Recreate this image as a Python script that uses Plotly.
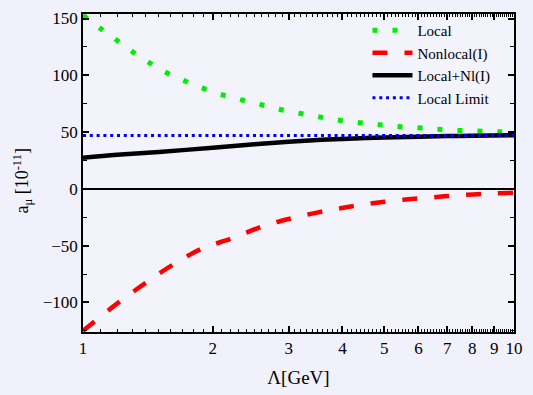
import plotly.graph_objects as go

# Data
lam_local = [1.0, 1.1, 1.2, 1.3, 1.42, 1.55, 1.705, 1.886, 2.09, 2.318, 2.574, 2.85, 3.175, 3.52, 3.9, 4.37, 4.85, 5.38, 5.99, 6.66, 7.42, 8.24, 9.15, 10.0]
local = [153, 141, 130.6, 121, 111.5, 103, 95.8, 88.9, 83.2, 78.6, 74.4, 70.1, 66.6, 63.5, 60.6, 58.3, 56.6, 54.9, 53.8, 52.6, 51.5, 50.9, 50.4, 50.0]

lam_nl = [1.0, 1.036, 1.191, 1.382, 1.604, 1.877, 2.225, 2.64, 3.06, 3.71, 4.44, 5.30, 6.33, 7.57, 9.04, 10.0]
nonlocal_ = [-125, -120.2, -101.9, -84.0, -67.6, -53.0, -43.3, -32.3, -25.7, -18.9, -14.0, -10.3, -7.7, -5.4, -4.0, -3.4]

lam_sum = [1.0, 1.2, 1.5, 2.0, 2.5, 3.0, 3.5, 4.0, 5.0, 6.0, 7.0, 8.0, 10.0]
local_nl = [27.5, 30.0, 32.5, 36.3, 39.3, 41.5, 43.0, 44.0, 45.3, 46.0, 46.5, 46.8, 47.3]

lam_limit = [1.0, 10.0]
local_limit = [47.0, 47.0]

x_ticks = [1, 2, 3, 4, 5, 6, 7, 8, 9, 10]
x_minor = [round(a + 0.1 * k, 2) for a in range(1, 10) for k in range(1, 10)]
y_ticks = [-100, -50, 0, 50, 100, 150]
y_minor = [-125, -75, -25, 25, 75, 125]

fig = go.Figure()
fig.add_trace(go.Scatter(x=lam_local, y=local, mode="lines", name="Local",
                         line=dict(color="#00ee00", width=5, dash="5px,15px", shape="spline")))
fig.add_trace(go.Scatter(x=lam_nl, y=nonlocal_, mode="lines", name="Nonlocal(I)",
                         line=dict(color="#ff0000", width=4.5, dash="15px,17px", shape="spline")))
fig.add_trace(go.Scatter(x=lam_sum, y=local_nl, mode="lines", name="Local+Nl(I)",
                         line=dict(color="black", width=4.5, shape="spline")))
fig.add_trace(go.Scatter(x=lam_limit, y=local_limit, mode="lines", name="Local Limit",
                         line=dict(color="#0000ff", width=3, dash="3px,3.8px")))

font = "Times New Roman, Times, Liberation Serif, serif"
fig.update_layout(
    width=533, height=395,
    margin=dict(l=83, r=11, t=10, b=60),
    paper_bgcolor="#f1f1fb",
    plot_bgcolor="#f3f3fc",
    font=dict(family=font, size=17, color="black"),
    showlegend=True,
    legend=dict(x=0.66, y=1.0, xanchor="left", yanchor="top", bgcolor="rgba(0,0,0,0)",
                font=dict(family=font, size=15), itemwidth=40, tracegroupgap=0),
    xaxis=dict(type="log", range=[0, 1], tickmode="array", tickvals=x_ticks, ticktext=[str(v) for v in x_ticks],
               ticks="inside", ticklen=6, tickwidth=1.5, tickcolor="black",
               tickfont=dict(family=font, size=17),
               showline=True, linecolor="black", linewidth=1.5, mirror="allticks",
               showgrid=False, zeroline=False,
               minor=dict(tickmode="array", tickvals=x_minor, ticks="inside", ticklen=3, tickwidth=1,
                          tickcolor="black", showgrid=False),
               title=dict(text="Λ[GeV]", font=dict(family=font, size=19), standoff=14)),
    yaxis=dict(range=[-126, 154], tickmode="array", tickvals=y_ticks,
               ticks="inside", ticklen=6, tickwidth=1.5, tickcolor="black",
               tickfont=dict(family=font, size=17),
               showline=True, linecolor="black", linewidth=1.5, mirror="allticks",
               showgrid=False, zeroline=True, zerolinecolor="black", zerolinewidth=1.5,
               minor=dict(tickmode="array", tickvals=y_minor, ticks="inside", ticklen=4, tickwidth=1,
                          tickcolor="black", showgrid=False)),
)
fig.add_annotation(text="a<sub>μ</sub> [10<sup>-11</sup>]", xref="paper", yref="paper",
                   x=-0.14, y=0.475, textangle=-90, showarrow=False,
                   font=dict(family=font, size=18), xanchor="center", yanchor="middle")

fig.write_html("out.html")
